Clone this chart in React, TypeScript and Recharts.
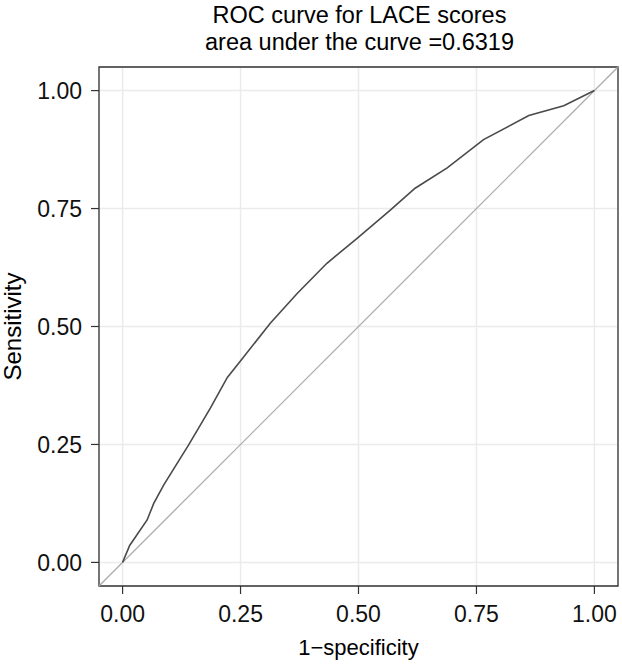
import React from "react";
import {
  LineChart,
  Line,
  XAxis,
  YAxis,
  CartesianGrid,
  ReferenceLine,
  ReferenceArea,
  Label,
} from "recharts";

// ROC curve points
const fpr = [
  0, 0.015, 0.052, 0.066, 0.087, 0.14, 0.186, 0.222, 0.246, 0.313, 0.37, 0.433,
  0.497, 0.568, 0.62, 0.688, 0.765, 0.861, 0.935, 1,
];
const sensitivity = [
  0, 0.036, 0.09, 0.125, 0.164, 0.249, 0.327, 0.392, 0.422, 0.507, 0.57, 0.634,
  0.687, 0.747, 0.793, 0.836, 0.896, 0.947, 0.968, 1,
];
const axisTicks = [0, 0.25, 0.5, 0.75, 1];
const titleLines = ["ROC curve for LACE scores", "area under the curve =0.6319"];
const xTitle = "1\u2212specificity";
const yTitle = "Sensitivity";

const data = fpr.map((x, i) => ({ fpr: x, tpr: sensitivity[i] }));

const FONT = '"Liberation Sans", Arial, Helvetica, sans-serif';
const LO = -0.05;
const HI = 1.05;

export default function App() {
  return (
    <div
      style={{
        position: "absolute",
        left: 0,
        top: 0,
        width: 622,
        height: 664,
        background: "#fff",
        fontFamily: FONT,
      }}
    >
      <div
        style={{
          position: "absolute",
          left: 99,
          width: 521,
          top: 2,
          textAlign: "center",
          fontSize: 23.5,
          lineHeight: "27px",
          color: "#000",
        }}
      >
        {titleLines.map((t) => (
          <div key={t}>{t}</div>
        ))}
      </div>
      <LineChart
        width={622}
        height={664}
        data={data}
        margin={{ top: 67, right: 4, bottom: 38, left: 39 }}
        style={{ position: "absolute", left: 0, top: 0, fontFamily: FONT }}
      >
        <CartesianGrid stroke="#ebebeb" strokeWidth={1.5} />
        <XAxis
          type="number"
          dataKey="fpr"
          domain={[LO, HI]}
          ticks={axisTicks}
          allowDataOverflow
          height={40}
          tickSize={8}
          tickMargin={12}
          axisLine={false}
          tickLine={{ stroke: "#333", strokeWidth: 1.2 }}
          tick={{ fill: "#111", fontSize: 23 }}
          tickFormatter={(v: number) => v.toFixed(2)}
        >
          <Label
            content={({ viewBox }: any) => (
              <text
                x={viewBox.x + viewBox.width / 2}
                y={viewBox.y + 69}
                textAnchor="middle"
                fontSize={22}
                fill="#000"
              >
                {xTitle}
              </text>
            )}
          />
        </XAxis>
        <YAxis
          type="number"
          dataKey="tpr"
          domain={[LO, HI]}
          ticks={axisTicks}
          allowDataOverflow
          width={60}
          tickSize={8}
          tickMargin={9}
          axisLine={false}
          tickLine={{ stroke: "#333", strokeWidth: 1.2 }}
          tick={{ fill: "#111", fontSize: 23 }}
          tickFormatter={(v: number) => v.toFixed(2)}
        >
          <Label
            content={({ viewBox }: any) => {
              const cx = viewBox.x - 18;
              const cy = viewBox.y + viewBox.height / 2;
              return (
                <text
                  x={cx}
                  y={cy}
                  transform={`rotate(-90 ${cx} ${cy})`}
                  textAnchor="middle"
                  fontSize={24}
                  fill="#000"
                >
                  {yTitle}
                </text>
              );
            }}
          />
        </YAxis>
        <ReferenceLine
          segment={[
            { x: LO, y: LO },
            { x: HI, y: HI },
          ]}
          stroke="#a6a6a6"
          strokeWidth={1.2}
          ifOverflow="visible"
        />
        <Line
          type="linear"
          dataKey="tpr"
          stroke="#4a4a4a"
          strokeWidth={1.6}
          dot={false}
          isAnimationActive={false}
        />
        <ReferenceArea
          x1={LO}
          x2={HI}
          y1={LO}
          y2={HI}
          fill="none"
          stroke="#333"
          strokeWidth={1.3}
          ifOverflow="visible"
        />
      </LineChart>
    </div>
  );
}
